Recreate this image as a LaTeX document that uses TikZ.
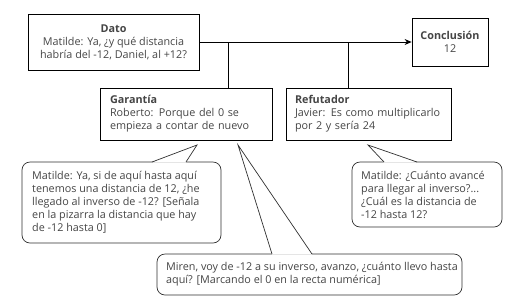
\documentclass[tikz,border=0pt]{standalone}
\usepackage{fontspec}
\setmainfont{Open Sans}
\usetikzlibrary{arrows.meta}
\definecolor{txt}{HTML}{454545}
\definecolor{cline}{HTML}{303030}
\begin{document}
\begin{tikzpicture}[x=1pt,y=-1pt,
  font=\fontsize{10.8}{13}\selectfont,
  box/.style={draw=black, line width=0.8pt, text=txt, inner ysep=2pt},
  ctext/.style={text=txt, inner sep=0pt, align=left, anchor=west},
  cbox/.style={draw=cline, line width=0.7pt, rounded corners=8pt, fill=white},
  cptr/.style={draw=cline, line width=0.7pt, line join=miter},
  conn/.style={draw=black, line width=0.8pt}]
\useasboundingbox (0,0) rectangle (516,301);

% main boxes
\node[box, minimum width=171pt, minimum height=56pt, align=center] (dato) at (113.5,42)
  {\textbf{Dato}\\Matilde: Ya, ¿y qué distancia\\habría del -12, Daniel, al +12?};
\node[box, minimum width=76pt, minimum height=48pt, align=center] (concl) at (450,42)
  {\textbf{Conclusión}\\12};
\node[box, text width=152pt, inner xsep=10pt, minimum height=52pt, align=left] (gar) at (186,114)
  {\textbf{Garantía}\\Roberto: Porque del 0 se\\empieza a contar de nuevo};
\node[box, text width=147pt, inner xsep=9pt, minimum height=52pt, align=left] (ref) at (368.5,114)
  {\textbf{Refutador}\\Javier: Es como multiplicarlo\\por 2 y sería 24};

% connectors
\draw[conn, -{Stealth[length=7pt,width=6pt]}] (dato.east) -- (concl.west);
\coordinate (j1) at (228,42);
\coordinate (j2) at (348,42);
\draw[conn] (j1) -- (j1 |- gar.north);
\draw[conn] (j2) -- (j2 |- ref.north);

% callout 1 (left)
\coordinate (c1a) at (22,162);
\coordinate (c1b) at (221,243);
\coordinate (c1l) at (152,162);
\coordinate (c1r) at (186,162);
\coordinate (c1t) at (197,145);
\draw[cbox] (c1a) rectangle (c1b);
\fill[white] ([yshift=-0.6pt]c1l) -- (c1t) -- ([yshift=-0.6pt]c1r) -- cycle;
\draw[cptr] (c1l) -- (c1t) -- (c1r);
\node[ctext] (c1) at (32,202.5)
  {Matilde: Ya, si de aquí hasta aquí\\tenemos una distancia de 12, ¿he\\llegado al inverso de -12? [Señala\\en la pizarra la distancia que hay\\de -12 hasta 0]};

% callout 2 (right)
\coordinate (c2a) at (352,162);
\coordinate (c2b) at (502,227);
\coordinate (c2l) at (384,162);
\coordinate (c2r) at (417,162);
\coordinate (c2t) at (368,145);
\draw[cbox] (c2a) rectangle (c2b);
\fill[white] ([yshift=-0.6pt]c2l) -- (c2t) -- ([yshift=-0.6pt]c2r) -- cycle;
\draw[cptr] (c2l) -- (c2t) -- (c2r);
\node[ctext] (c2) at (361,194.5)
  {Matilde: ¿Cuánto avancé\\para llegar al inverso?...\\¿Cuál es la distancia de\\-12 hasta 12?};

% callout 3 (bottom)
\coordinate (c3a) at (157,254);
\coordinate (c3b) at (462,295);
\coordinate (c3l) at (272,254);
\coordinate (c3r) at (312,254);
\coordinate (c3t) at (238,145);
\draw[cbox] (c3a) rectangle (c3b);
\fill[white] ([yshift=-0.6pt]c3l) -- (c3t) -- ([yshift=-0.6pt]c3r) -- cycle;
\draw[cptr] (c3l) -- (c3t) -- (c3r);
\node[ctext] (c3) at (166,274.5)
  {Miren, voy de -12 a su inverso, avanzo, ¿cuánto llevo hasta\\aquí? [Marcando el 0 en la recta numérica]};
\end{tikzpicture}
\end{document}
